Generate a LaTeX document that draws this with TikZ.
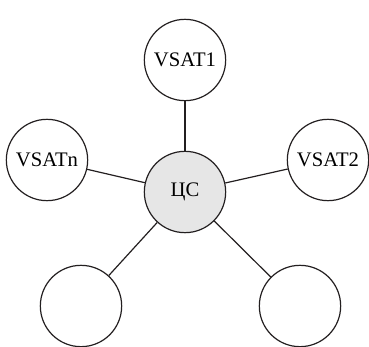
\documentclass[tikz,border=0pt]{standalone}
\usepackage{fontspec}
\setmainfont{Liberation Serif}
\usetikzlibrary{positioning}

\begin{document}
\begin{tikzpicture}[
    x=0.75pt, y=-0.75pt,
    font=\fontsize{15.5}{18}\selectfont,
]

\definecolor{hubCol}{RGB}{230, 230, 230}
\definecolor{lineCol}{RGB}{35, 31, 32}

\tikzset{
    vsat_node/.style = {circle, minimum size=61pt, inner sep=0pt,
                        text centered, draw=lineCol, line width=0.9pt, fill=white},
    hub_node/.style  = {vsat_node, fill=hubCol},
    link/.style      = {draw=lineCol, line width=0.9pt}
}

\useasboundingbox (0, 0) rectangle (369, 347);

% =========== HUB ===========
\node[hub_node] (hub) at (185, 192) {ЦС};

% =========== VSAT STATIONS ===========
\node[vsat_node] (vsat1) at (185, 60) {VSAT1};
\node[vsat_node] (vsat2) at (328, 160) {VSAT2};
\node[vsat_node] (vsatn) at (47, 160) {VSATn};
\node[vsat_node] (vsat_bl) at (81, 306) {};
\node[vsat_node] (vsat_br) at (300, 306) {};

% Links
\draw[link] (hub) -- (vsat1);
\draw[link] (hub) -- (vsat2);
\draw[link] (hub) -- (vsatn);
\draw[link] (hub) -- (vsat_bl);
\draw[link] (hub) -- (vsat_br);

\end{tikzpicture}
\end{document}
